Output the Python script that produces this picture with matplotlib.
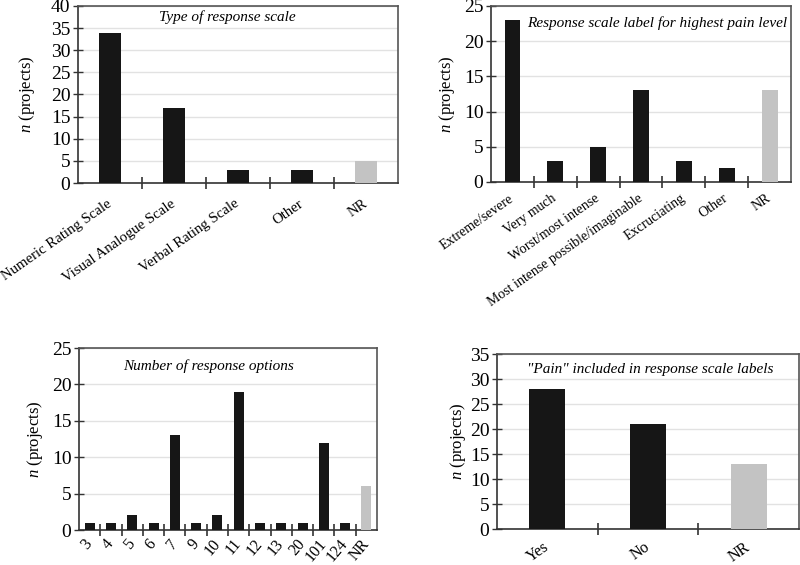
import numpy as np
import matplotlib
matplotlib.use("Agg")
import matplotlib.pyplot as plt

plt.rcParams['font.family'] = ['Liberation Serif', 'DejaVu Serif']
plt.rcParams['mathtext.fontset'] = 'custom'
plt.rcParams['mathtext.it'] = 'Liberation Serif:italic'
plt.rcParams['mathtext.rm'] = 'Liberation Serif'

# data
scale_types = ["Numeric Rating Scale", "Visual Analogue Scale", "Verbal Rating Scale", "Other", "NR"]
scale_counts = [34, 17, 3, 3, 5]

top_labels = ["Extreme/severe", "Very much", "Worst/most intense", "Most intense possible/imaginable",
              "Excruciating", "Other", "NR"]
top_counts = [23, 3, 5, 13, 3, 2, 13]

n_options = ["3", "4", "5", "6", "7", "9", "10", "11", "12", "13", "20", "101", "124", "NR"]
n_counts = [1, 1, 2, 1, 13, 1, 2, 19, 1, 1, 1, 12, 1, 6]

pain_labels = ["Yes", "No", "NR"]
pain_counts = [28, 21, 13]

BLACK = "#161616"
GREY = "#c3c3c3"


def panel(fig, rect, cats, vals, title, tpos, ymax, width, rot, xfs=11, xpad=9, ylpad=4):
    ax = fig.add_axes(rect)
    x = np.arange(len(cats))
    colors = [GREY if c == "NR" else BLACK for c in cats]
    ax.bar(x, vals, width=width, color=colors, zorder=3)
    ax.set_xlim(-0.5, len(cats) - 0.5)
    ax.set_ylim(0, ymax)
    ax.set_yticks(np.arange(0, ymax + 1, 5))
    ax.yaxis.grid(True, color="#e2e2e2", linewidth=1, zorder=0)
    ax.set_xticks(x)
    ax.set_xticklabels(cats, rotation=rot, ha="right", va="center", rotation_mode="anchor", fontsize=xfs)
    ax.set_xticks(np.arange(0.5, len(cats) - 1, 1), minor=True)
    ax.tick_params(axis="x", which="major", length=0, pad=xpad)
    ax.tick_params(axis="x", which="minor", direction="inout", length=8, width=1.2, color="#333333")
    ax.tick_params(axis="y", direction="inout", length=7, width=1, color="#333333", labelsize=14, pad=2)
    for s in ax.spines.values():
        s.set_color("#555555")
        s.set_linewidth(1.2)
    ax.spines["bottom"].set_color("#333333")
    ax.spines["left"].set_color("#333333")
    ax.set_ylabel("$n$ (projects)", fontsize=12, labelpad=ylpad)
    ax.text(tpos[0], tpos[1], title, transform=ax.transAxes, ha="center", va="center",
            style="italic", fontsize=11)
    return ax


def main():
    fig = plt.figure(figsize=(8, 5.65), dpi=100)
    panel(fig, [0.0975, 0.6761, 0.40, 0.3133], scale_types, scale_counts,
          "Type of response scale", (0.466, 0.938), 40, 0.35, 35, xfs=10.6, xpad=14, ylpad=10)
    panel(fig, [0.6138, 0.6779, 0.375, 0.3115], top_labels, top_counts,
          "Response scale label for highest pain level", (0.553, 0.903), 25, 0.37, 35,
          xfs=10, xpad=11, ylpad=5)
    panel(fig, [0.0988, 0.0619, 0.3725, 0.3221], n_options, n_counts,
          "Number of response options", (0.433, 0.90), 25, 0.47, 50, xfs=11.5, xpad=8, ylpad=5)
    panel(fig, [0.6213, 0.0637, 0.3775, 0.3097], pain_labels, pain_counts,
          "\"Pain\" included in response scale labels", (0.507, 0.909), 35, 0.36, 35,
          xfs=11.5, xpad=12, ylpad=1)
    fig.savefig("out.png", dpi=100)


if __name__ == "__main__":
    main()
